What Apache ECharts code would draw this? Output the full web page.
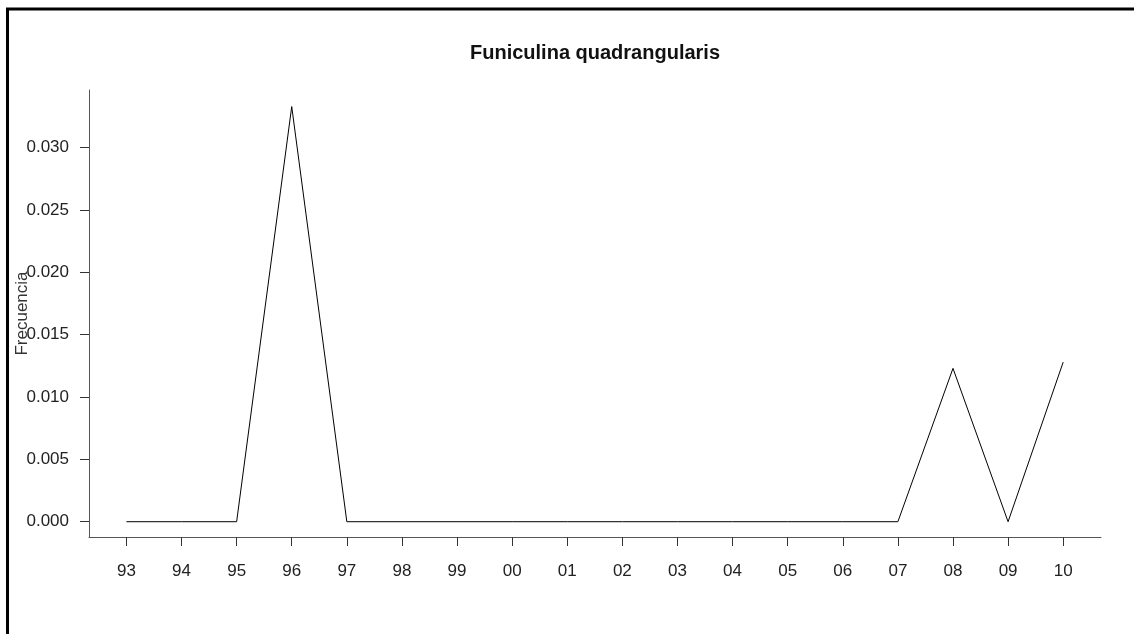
<!DOCTYPE html>
<html>
<head>
<meta charset="utf-8">
<script src="https://cdn.jsdelivr.net/npm/echarts@6/dist/echarts.min.js"></script>
<style>
html,body{margin:0;padding:0;background:#fff;}
#chart{width:1134px;height:634px;}
</style>
</head>
<body>
<div id="chart"></div>
<script>
// Data
const years = ['93','94','95','96','97','98','99','00','01','02','03','04','05','06','07','08','09','10'];
const frecuencia = [0, 0, 0, 0.0333, 0, 0, 0, 0, 0, 0, 0, 0, 0, 0, 0, 0.0123, 0, 0.0128];
const yTicks = [0, 0.005, 0.010, 0.015, 0.020, 0.025, 0.030];
const titleText = 'Funiculina quadrangularis';
const yName = 'Frecuencia';

const xIdx = years.map((_, i) => i);
const seriesData = frecuencia.map((v, i) => [i, v]);

const FONT = '"Liberation Sans", Arial, sans-serif';
const chart = echarts.init(document.getElementById('chart'), null, {renderer: 'canvas'});
chart.setOption({
  backgroundColor: '#ffffff',
  animation: false,
  title: {
    text: titleText,
    left: 465,
    top: 38,
    textStyle: {fontFamily: FONT, fontWeight: 'bold', fontSize: 20, color: '#111'}
  },
  grid: {left: 89, right: 33, top: 90, bottom: 97, containLabel: false, outerBoundsMode: 'none'},
  xAxis: {
    type: 'value',
    min: -0.679,
    max: 17.686,
    splitLine: {show: false},
    axisLine: {show: true, onZero: false, lineStyle: {color: '#555', width: 1}},
    axisTick: {show: true, length: 9, customValues: xIdx, lineStyle: {color: '#333'}},
    axisLabel: {
      customValues: xIdx,
      margin: 26,
      fontFamily: FONT, fontSize: 17, color: '#222',
      formatter: v => years[Math.round(v)]
    }
  },
  yAxis: {
    type: 'value',
    min: -0.001227,
    max: 0.03463,
    name: yName,
    nameLocation: 'middle',
    nameRotate: 90,
    nameGap: 58,
    nameMoveOverlap: false,
    nameTextStyle: {fontFamily: FONT, fontSize: 17, color: '#333'},
    splitLine: {show: false},
    axisLine: {show: true, onZero: false, lineStyle: {color: '#555', width: 1}},
    axisTick: {show: true, length: 9, customValues: yTicks, lineStyle: {color: '#333'}},
    axisLabel: {
      customValues: yTicks,
      margin: 20,
      fontFamily: FONT, fontSize: 17, color: '#222',
      formatter: v => v.toFixed(3)
    }
  },
  series: [{
    type: 'line',
    data: seriesData,
    showSymbol: false,
    symbol: 'none',
    lineStyle: {color: '#000', width: 1},
    silent: true
  }],
  graphic: [{
    type: 'rect',
    shape: {x: 7.5, y: 9, width: 1300, height: 800},
    style: {fill: null, stroke: '#000', lineWidth: 3},
    silent: true
  }]
});
</script>
</body>
</html>
